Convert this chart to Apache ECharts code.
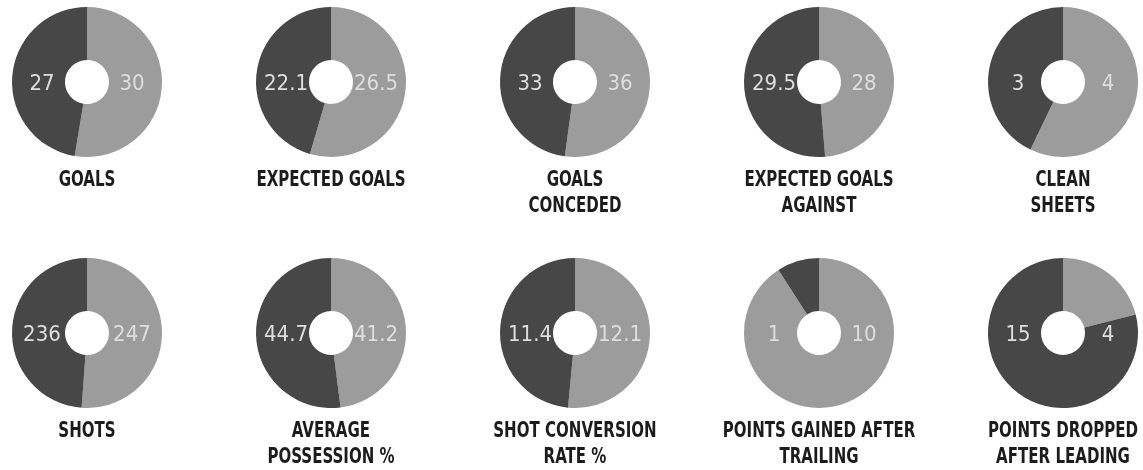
<!DOCTYPE html>
<html>
<head>
<meta charset="utf-8">
<script src="https://cdn.jsdelivr.net/npm/echarts@6/dist/echarts.min.js"></script>
<style>
  html, body { margin: 0; padding: 0; background: #fff; }
  #chart { width: 1143px; height: 470px; }
</style>
</head>
<body>
<div id="chart"></div>
<script>
// stat names, left value (dark) and right value (light)
const labels = [
  'GOALS', 'EXPECTED GOALS', 'GOALS\nCONCEDED', 'EXPECTED GOALS\nAGAINST', 'CLEAN\nSHEETS',
  'SHOTS', 'AVERAGE\nPOSSESSION %', 'SHOT CONVERSION\nRATE %', 'POINTS GAINED AFTER\nTRAILING', 'POINTS DROPPED\nAFTER LEADING'
];
const leftValues = [27, 22.1, 33, 29.5, 3, 236, 44.7, 11.4, 1, 15];
const rightValues = [30, 26.5, 36, 28, 4, 247, 41.2, 12.1, 10, 4];

const DARK = '#474747';
const LIGHT = '#9c9c9c';
const COLS = 5;
const colX = (i) => 87 + 244 * (i % COLS);
const rowY = (i) => (i < COLS ? 82 : 333);
const FONT = '"Liberation Sans Narrow", "DejaVu Sans Condensed", sans-serif';

const chart = echarts.init(document.getElementById('chart'));

const series = labels.map((name, i) => ({
  type: 'pie',
  name,
  center: [colX(i), rowY(i)],
  radius: [22, 75],
  startAngle: 90,
  clockwise: true,
  silent: true,
  animation: false,
  avoidLabelOverlap: false,
  labelLine: { show: false },
  label: {
    show: true,
    position: 'center',
    formatter: '{c}',
    color: '#dedede',
    fontFamily: FONT,
    fontSize: 22,
  },
  // light value sits right of the hole, dark value left
  labelLayout: (p) => ({ dx: p.dataIndex === 0 ? 45 : -45, dy: 2 }),
  data: [
    { value: rightValues[i], itemStyle: { color: LIGHT } },
    { value: leftValues[i], itemStyle: { color: DARK } },
  ],
}));

// captions under each donut, squeezed to look like a condensed face
const captions = labels.map((name, i) => ({
  type: 'text',
  x: colX(i),
  y: rowY(i) + 85,
  scaleX: 0.76,
  silent: true,
  style: {
    text: name,
    align: 'center',
    verticalAlign: 'top',
    fill: '#1c1c1c',
    font: 'bold 22px "DejaVu Sans Condensed", sans-serif',
    lineHeight: 26,
  },
}));

chart.setOption({
  backgroundColor: '#ffffff',
  animation: false,
  series,
  graphic: captions,
});
</script>
</body>
</html>
